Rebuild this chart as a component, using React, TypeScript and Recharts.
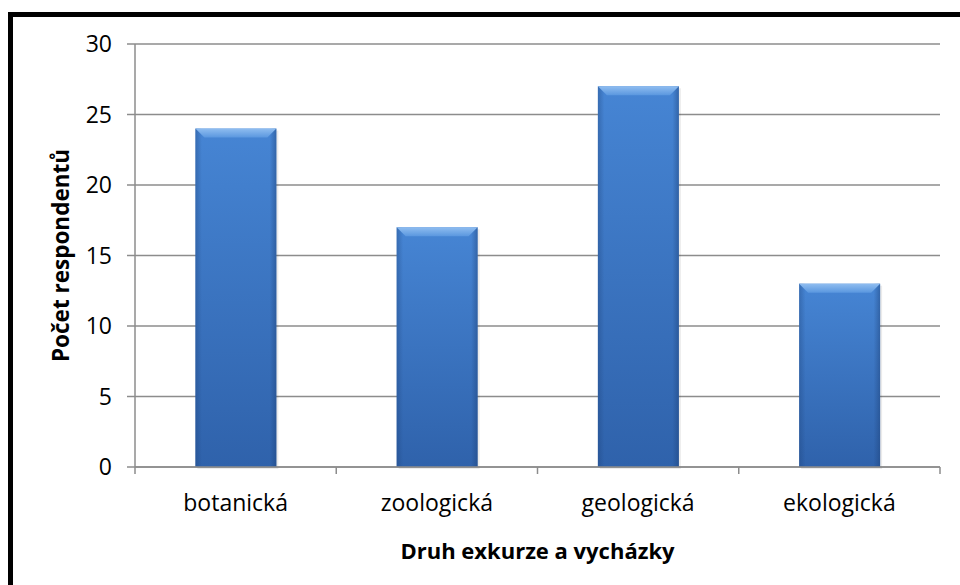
import { ComposedChart, Bar, XAxis, YAxis, CartesianGrid, Label } from "recharts";

const categories = ["botanická", "zoologická", "geologická", "ekologická"];
const respondents = [24, 17, 27, 13];
const yTicks = [0, 5, 10, 15, 20, 25, 30];

const data = categories.map((name, i) => ({ name, value: respondents[i] }));

const FONT = "'Open Sans', 'Liberation Sans', sans-serif";
const GRID = "#8c8c8c";

function BevelBar(props: any) {
  const { x, y, width, height } = props;
  if (!height || height <= 0) return null;
  const b = Math.min(9, width / 6);
  return (
    <g>
      <rect x={x + 2} y={y + 2} width={width} height={height} fill="#000" opacity={0.08} />
      <rect x={x} y={y} width={width} height={height} fill="url(#barBody)" />
      <rect x={x} y={y} width={width} height={height} fill="url(#barSides)" />
      <polygon points={`${x},${y} ${x + width},${y} ${x + width - b},${y + b} ${x + b},${y + b}`} fill="url(#barTop)" />
    </g>
  );
}

// category label in the middle, tick marks on the band edges
function CategoryTick(props: any) {
  const { x, y, payload, index, visibleTicksCount } = props;
  const half = payload?.offset ?? 0;
  const top = y - 28; // back to the axis line (tickSize 6 + tickMargin 22)
  return (
    <g>
      <line x1={x - half} y1={top} x2={x - half} y2={top + 7} stroke={GRID} strokeWidth={1.5} />
      {index === visibleTicksCount - 1 && (
        <line x1={x + half} y1={top} x2={x + half} y2={top + 7} stroke={GRID} strokeWidth={1.5} />
      )}
      <text x={x} y={y} dy="0.71em" textAnchor="middle" style={{ fill: "#000", fontSize: 23, fontFamily: FONT }}>
        {payload.value}
      </text>
    </g>
  );
}

export default function App() {
  return (
    <div style={{ position: "fixed", left: 0, top: 0, width: 960, height: 585, background: "#fff", overflow: "hidden" }}>
      <div style={{ position: "absolute", left: 8, top: 12, width: 1000, height: 700, border: "5px solid #000", boxSizing: "border-box" }} />
      <div style={{ position: "absolute", left: 0, top: 0 }}>
        <ComposedChart width={960} height={585} data={data} margin={{ top: 44, right: 20, bottom: 28, left: 60 }} barCategoryGap="30%">
          <defs>
            <linearGradient id="barBody" x1="0" y1="0" x2="0" y2="1">
              <stop offset="0%" stopColor="#4685d4" />
              <stop offset="100%" stopColor="#2f62ab" />
            </linearGradient>
            <linearGradient id="barSides" x1="0" y1="0" x2="1" y2="0">
              <stop offset="0%" stopColor="#1c3f75" stopOpacity={0.35} />
              <stop offset="8%" stopColor="#1c3f75" stopOpacity={0} />
              <stop offset="92%" stopColor="#1c3f75" stopOpacity={0} />
              <stop offset="100%" stopColor="#1c3f75" stopOpacity={0.45} />
            </linearGradient>
            <linearGradient id="barTop" x1="0" y1="0" x2="0" y2="1">
              <stop offset="0%" stopColor="#8fbdf0" />
              <stop offset="100%" stopColor="#5a97df" />
            </linearGradient>
          </defs>
          <CartesianGrid vertical={false} stroke={GRID} strokeWidth={1.5} />
          <XAxis
            dataKey="name"
            height={90}
            axisLine={{ stroke: GRID, strokeWidth: 1.5 }}
            tickLine={false}
            tickMargin={22}
            tick={<CategoryTick />}
          >
            <Label
              value="Druh exkurze a vycházky"
              position="insideBottom"
              offset={-2}
              style={{ fill: "#000", fontSize: 22, fontWeight: 700, fontFamily: FONT }}
            />
          </XAxis>
          <YAxis
            width={75}
            domain={[0, 30]}
            ticks={yTicks}
            interval={0}
            axisLine={{ stroke: GRID, strokeWidth: 1.5 }}
            tickLine={{ stroke: GRID, strokeWidth: 1.5 }}
            tickSize={8}
            tickMargin={15}
            tick={{ fill: "#000", fontSize: 23, fontFamily: FONT }}
          >
            <Label
              content={({ viewBox }: any) => {
                const cx = 60;
                const cy = viewBox.y + viewBox.height / 2;
                return (
                  <text
                    x={cx}
                    y={cy}
                    transform={`rotate(-90 ${cx} ${cy})`}
                    textAnchor="middle"
                    dominantBaseline="central"
                    style={{ fill: "#000", fontSize: 22.5, fontWeight: 700, fontFamily: FONT }}
                  >
                    Počet respondentů
                  </text>
                );
              }}
            />
          </YAxis>
          <Bar dataKey="value" shape={BevelBar} isAnimationActive={false} />
        </ComposedChart>
      </div>
    </div>
  );
}
